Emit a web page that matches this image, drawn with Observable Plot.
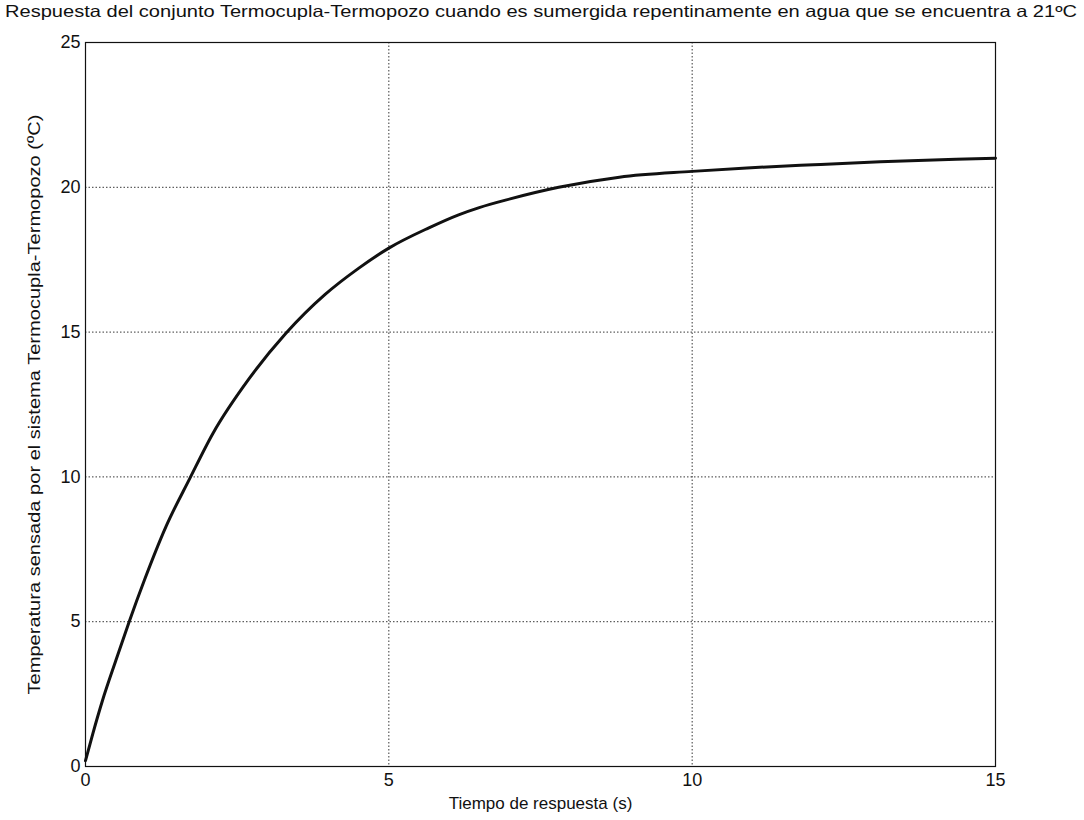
<!DOCTYPE html>
<html>
<head>
<meta charset="utf-8">
<script src="https://cdn.jsdelivr.net/npm/d3@7"></script>
<script src="https://cdn.jsdelivr.net/npm/@observablehq/plot@0.6"></script>
<style>
  html, body { margin: 0; padding: 0; background: #fff; }
  #title { display: block; }
  #chart svg { display: block; }
</style>
</head>
<body>
<svg id="title" width="1084" height="22">
  <text x="5" y="17" font-family="'Liberation Sans', Arial, sans-serif" font-size="16.5" fill="#111"
        textLength="1072" lengthAdjust="spacingAndGlyphs">Respuesta del conjunto Termocupla-Termopozo cuando es sumergida repentinamente en agua que se encuentra a 21ºC</text>
</svg>
<div id="chart"></div>
<script>
// Time (s) and sensed temperature (ºC)
const tiempo = [0, 0.12, 0.28, 0.50, 0.72, 0.97, 1.33, 1.72, 2.10, 2.70, 3.30, 3.95, 4.50, 5.00, 5.66, 6.15, 6.49, 7.00, 7.80, 8.80, 10.0, 10.9, 12.0, 13.1, 14.35, 15.0];
const temperatura = [0.2, 1.13, 2.28, 3.66, 5.0, 6.43, 8.3, 9.95, 11.5, 13.4, 14.95, 16.3, 17.2, 17.9, 18.6, 19.05, 19.3, 19.6, 20.0, 20.35, 20.55, 20.67, 20.78, 20.88, 20.97, 21.0];
const xTicks = [0, 5, 10, 15];
const yTicks = [0, 5, 10, 15, 20, 25];

const data = tiempo.map((t, i) => ({t, T: temperatura[i]}));

const chart = Plot.plot({
  width: 1084,
  height: 798,
  marginLeft: 85,
  marginRight: 89,
  marginTop: 20,
  marginBottom: 54,
  style: {fontFamily: "'Liberation Sans', Arial, sans-serif", fontSize: "18px", color: "#111", background: "#fff"},
  x: {domain: [0, 15]},
  y: {domain: [0, 25]},
  marks: [
    Plot.gridX(xTicks, {stroke: "#222", strokeOpacity: 0.9, strokeDasharray: "1.5,2"}),
    Plot.gridY(yTicks, {stroke: "#222", strokeOpacity: 0.9, strokeDasharray: "1.5,2"}),
    Plot.frame({stroke: "#111", strokeWidth: 1.2}),
    Plot.axisX({ticks: xTicks, tickSize: 0, tickPadding: 7, label: "Tiempo de respuesta (s)", labelArrow: "none", labelAnchor: "center", labelOffset: 42}),
    Plot.axisY({ticks: yTicks, tickSize: 0, tickPadding: 5, label: "Temperatura sensada por el sistema Termocupla-Termopozo (ºC)", labelArrow: "none", labelAnchor: "center", labelOffset: 58}),
    Plot.line(data, {x: "t", y: "T", stroke: "#111", strokeWidth: 3, curve: "monotone-x"})
  ]
});
document.getElementById("chart").appendChild(chart);
// axis-label typography
d3.select(chart).select('g[aria-label="x-axis label"]').attr("font-size", "17px");
d3.select(chart).select('g[aria-label="y-axis label"]').attr("font-size", "17px")
  .selectAll("text").attr("textLength", 580).attr("lengthAdjust", "spacingAndGlyphs");
</script>
</body>
</html>
